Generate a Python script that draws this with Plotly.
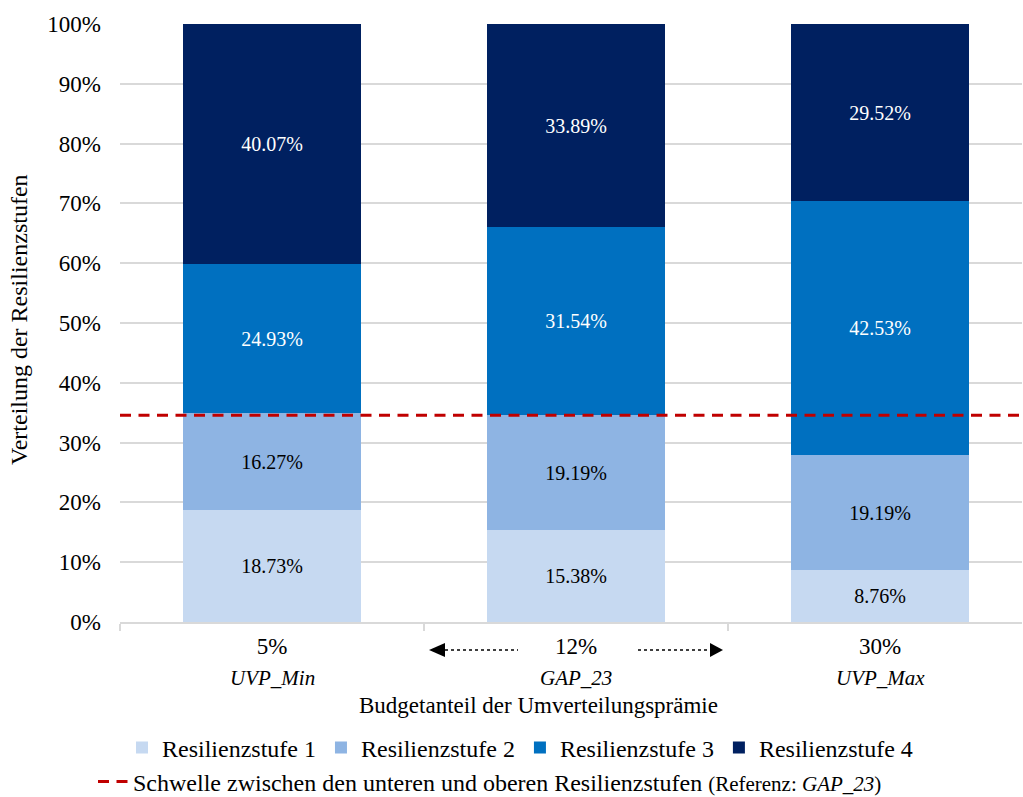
import plotly.graph_objects as go

# Budget shares of the redistribution premium and scenario names
budget_labels = ["5%", "12%", "30%"]
scenario_names = ["UVP_Min", "GAP_23", "UVP_Max"]

# Share of farms per resilience level (percent)
stufe_1 = [18.73, 15.38, 8.76]
stufe_2 = [16.27, 19.19, 19.19]
stufe_3 = [24.93, 31.54, 42.53]
stufe_4 = [40.07, 33.89, 29.52]

series_names = ["Resilienzstufe 1", "Resilienzstufe 2", "Resilienzstufe 3", "Resilienzstufe 4"]
series_values = [stufe_1, stufe_2, stufe_3, stufe_4]
series_colors = ["#C6D9F1", "#8EB4E3", "#0070C0", "#002060"]
text_colors = ["#000000", "#000000", "#FFFFFF", "#FFFFFF"]

y_ticks = [0, 10, 20, 30, 40, 50, 60, 70, 80, 90, 100]

# Threshold between lower and upper levels: reference scenario GAP_23
ref_idx = scenario_names.index("GAP_23")
threshold = stufe_1[ref_idx] + stufe_2[ref_idx]

FONT = "Liberation Serif"
FS_TICK = 23
FS_LABEL = 20
FS_LEGEND = 24

W, H = 1023, 797
M_L, M_R, M_T, M_B = 120, 1, 24, 175
PLOT_W = W - M_L - M_R
PLOT_H = H - M_T - M_B
X_RANGE = [-0.5, 2.467]
x_pos = list(range(len(budget_labels)))


def px_to_paper_x(px):
    return (px - M_L) / PLOT_W


def px_to_paper_y(py):
    return (H - M_B - py) / PLOT_H


fig = go.Figure()

for name, vals, col, tcol in zip(series_names, series_values, series_colors, text_colors):
    fig.add_trace(go.Bar(
        x=x_pos, y=vals, name=name,
        marker=dict(color=col, line=dict(width=0)),
        width=0.585,
        text=vals, texttemplate="%{y:.2f}%",
        textposition="inside", insidetextanchor="middle",
        textfont=dict(family=FONT, size=FS_LABEL, color=tcol),
        legend="legend",
        hoverinfo="skip",
    ))

# Dashed threshold line across the whole plot
fig.add_trace(go.Scatter(
    x=[-0.5, 2.6], y=[threshold, threshold], mode="lines",
    line=dict(color="#C00000", width=3, dash="11px,7.5px"),
    name="Schwelle zwischen den unteren und oberen Resilienzstufen "
         "<span style='font-size:21px'>(Referenz: <i>GAP_23</i>)</span>",
    legend="legend2", hoverinfo="skip",
))

# Dotted double arrow around the reference budget share (12%)
arrow_py = 650
ay = px_to_paper_y(arrow_py)
for x0, x1 in [(445, 518), (638, 710)]:
    fig.add_shape(type="line", xref="paper", yref="paper",
                  x0=px_to_paper_x(x0), x1=px_to_paper_x(x1), y0=ay, y1=ay,
                  line=dict(color="black", width=1.5, dash="dot"))
for tip, base in [(429, 445), (723, 710)]:
    xt, xb = px_to_paper_x(tip), px_to_paper_x(base)
    yt, yb = px_to_paper_y(arrow_py - 7), px_to_paper_y(arrow_py + 7)
    fig.add_shape(type="path", xref="paper", yref="paper",
                  path=f"M {xt} {ay} L {xb} {yt} L {xb} {yb} Z",
                  fillcolor="black", line=dict(width=0))

# Scenario names below the budget share ticks
for xi, sname in zip(x_pos, scenario_names):
    fig.add_annotation(x=xi, y=px_to_paper_y(678), xref="x", yref="paper",
                       text=f"<i>{sname}</i>", showarrow=False,
                       font=dict(family=FONT, size=21, color="black"), yanchor="middle")

# Axis titles
fig.add_annotation(x=px_to_paper_x(538), y=px_to_paper_y(705), xref="paper", yref="paper",
                   text="Budgetanteil der Umverteilungsprämie", showarrow=False,
                   font=dict(family=FONT, size=FS_TICK, color="black"), yanchor="middle")
fig.add_annotation(x=px_to_paper_x(19), y=px_to_paper_y(320), xref="paper", yref="paper",
                   text="Verteilung der Resilienzstufen", showarrow=False, textangle=-90,
                   font=dict(family=FONT, size=24, color="black"),
                   xanchor="center", yanchor="middle")

fig.update_layout(
    width=W, height=H,
    margin=dict(l=M_L, r=M_R, t=M_T, b=M_B, autoexpand=False),
    barmode="stack",
    bargap=0,
    plot_bgcolor="white", paper_bgcolor="white",
    font=dict(family=FONT, size=FS_TICK, color="black"),
    showlegend=True,
    legend=dict(orientation="h", x=px_to_paper_x(520), xanchor="center",
                y=px_to_paper_y(748), yanchor="middle",
                font=dict(family=FONT, size=FS_LEGEND), itemwidth=30, traceorder="normal",
                bgcolor="rgba(0,0,0,0)"),
    legend2=dict(orientation="h", x=px_to_paper_x(490), xanchor="center",
                 y=px_to_paper_y(782), yanchor="middle",
                 font=dict(family=FONT, size=FS_LEGEND), itemwidth=30,
                 bgcolor="rgba(0,0,0,0)"),
    xaxis=dict(
        range=X_RANGE, tickvals=x_pos, ticktext=budget_labels,
        ticks="", showgrid=False, zeroline=False, ticklabelstandoff=3,
        showline=True, linecolor="#D9D9D9", linewidth=1.5,
        minor=dict(tickvals=[-0.5, 0.5, 1.5], ticks="outside", ticklen=7,
                   tickcolor="#D9D9D9", tickwidth=1.5, showgrid=False),
        tickfont=dict(family=FONT, size=FS_TICK), fixedrange=True,
    ),
    yaxis=dict(
        range=[0, 100], tickvals=y_ticks, ticktext=[f"{v}%" for v in y_ticks],
        showgrid=True, gridcolor="#D9D9D9", gridwidth=1.5, zeroline=False,
        ticks="", ticklabelstandoff=18,
        tickfont=dict(family=FONT, size=FS_TICK), fixedrange=True,
    ),
)

fig.write_html("out.html")
